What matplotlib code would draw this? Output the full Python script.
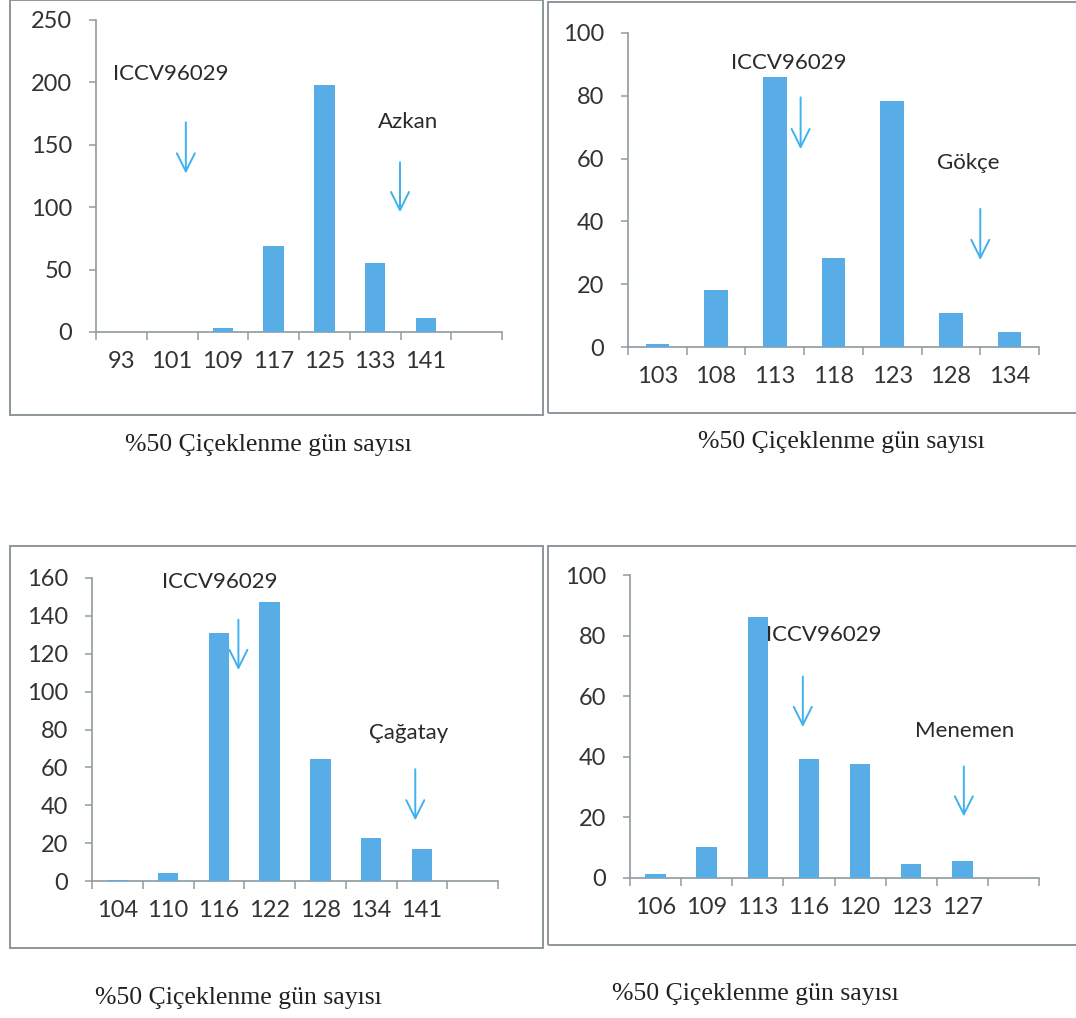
import matplotlib
matplotlib.use("Agg")
import matplotlib.pyplot as plt
from matplotlib.patches import Rectangle

# ---------------- data ----------------
days_a = ["93", "101", "109", "117", "125", "133", "141", ""]
vals_a = [0, 0, 3, 69, 198, 55, 11.5, 0]

days_b = ["103", "108", "113", "118", "123", "128", "134"]
vals_b = [1, 18, 86, 28.5, 78.5, 10.7, 4.8]

days_c = ["104", "110", "116", "122", "128", "134", "141", ""]
vals_c = [0.5, 4, 131, 147.5, 64.5, 22.5, 17, 0]

days_d = ["106", "109", "113", "116", "120", "123", "127", ""]
vals_d = [1.2, 10.3, 86.3, 39.3, 37.6, 4.7, 5.7, 0]

ymax = [250, 100, 160, 100]
ystep = [50, 20, 20, 20]

# annotation labels: (text, text_x, text_y, arrow_x, arrow_top, arrow_bottom) in data coords
notes_a = [("ICCV96029", 0.98, 207, 1.27, 168, 127), ("Azkan", 5.65, 168, 5.49, 136, 96)]
notes_b = [("ICCV96029", 2.24, 90.3, 2.44, 79.5, 63), ("Gökçe", 5.3, 58.6, 5.5, 44, 27.7)]
notes_c = [("ICCV96029", 2.02, 158, 2.385, 138, 111.4), ("Çağatay", 5.73, 78, 5.87, 59, 32)]
notes_d = [("ICCV96029", 3.29, 80.2, 2.88, 66.5, 49.8), ("Menemen", 6.05, 48.4, 6.03, 36.8, 20.3)]

caption = "%50 Çiçeklenme gün sayısı"

# ---------------- layout ----------------
W, H = 1076, 1018
fig = plt.figure(figsize=(W / 100, H / 100), dpi=100)
fig.patch.set_facecolor("white")

BAR = "#58ade7"
ARROW = "#3fb1ee"
AXC = "#8f9ba0"
TXT = "#333333"
FONT = "Lato"


def px_axes(left, right, top, bottom):
    return fig.add_axes([left / W, 1 - bottom / H, (right - left) / W, (bottom - top) / H])


def frame(left, top, right, bottom):
    fig.add_artist(Rectangle((left / W, 1 - bottom / H), (right - left) / W, (bottom - top) / H,
                             transform=fig.transFigure, fill=False, edgecolor="#8c969a", lw=1.4))


panels = [
    (days_a, vals_a, notes_a, (96, 502, 20, 332), (268, 445)),
    (days_b, vals_b, notes_b, (628, 1039, 33, 347), (841, 442)),
    (days_c, vals_c, notes_c, (92, 498, 578, 881), (238, 998)),
    (days_d, vals_d, notes_d, (630, 1039, 575, 878), (755, 994)),
]

frame(10, 0, 543, 415)
frame(548, 2, 1085, 413)
frame(10, 546, 543, 948)
frame(548, 546, 1085, 945)

for i, (days, vals, notes, box, cap) in enumerate(panels):
    ax = px_axes(*box)
    n = len(days)
    pos = list(range(n))
    ax.bar(pos, vals, width=0.4, color=BAR, zorder=3)
    ax.set_xlim(-0.5, n - 0.5)
    ax.set_ylim(0, ymax[i])
    ax.set_facecolor("none")
    for s in ["top", "right"]:
        ax.spines[s].set_visible(False)
    for s in ["left", "bottom"]:
        ax.spines[s].set_color(AXC)
        ax.spines[s].set_linewidth(1.2)
    ax.set_yticks(list(range(0, ymax[i] + 1, ystep[i])))
    ax.tick_params(axis="y", length=5, width=1.1, color=AXC, pad=12,
                   labelsize=17, labelcolor=TXT)
    ax.set_xticks([p - 0.5 for p in range(n + 1)])
    ax.set_xticklabels([])
    ax.set_xticks(pos, minor=True)
    ax.set_xticklabels(days, minor=True)
    ax.tick_params(axis="x", which="major", length=6, width=1.1, color=AXC)
    ax.tick_params(axis="x", which="minor", length=0, pad=14, labelsize=17, labelcolor=TXT)
    for lab in ax.get_yticklabels() + ax.get_xticklabels(minor=True):
        lab.set_fontfamily(FONT)
    for (t, tx, ty, axx, a_top, a_bot) in notes:
        ax.text(tx, ty, t, ha="center", va="center", fontsize=16, color="#2a2a2a",
                family=FONT, zorder=5)
        ax.annotate("", xy=(axx, a_bot), xytext=(axx, a_top),
                    arrowprops=dict(arrowstyle="->,head_length=1.3,head_width=0.65",
                                    color=ARROW, lw=1.4, shrinkA=0, shrinkB=0,
                                    mutation_scale=10), zorder=5)
    fig.text(cap[0] / W, 1 - cap[1] / H, caption, ha="center", va="center",
             fontsize=18.5, family="Liberation Serif", color="#222222")

fig.savefig("out.png", dpi=100, facecolor="white")
